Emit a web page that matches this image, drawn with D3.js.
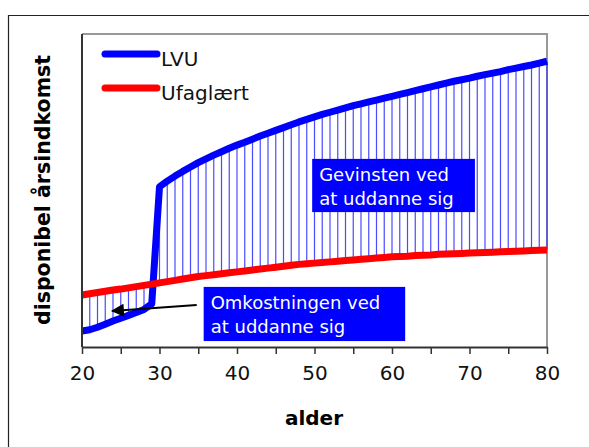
<!DOCTYPE html>
<html>
<head>
<meta charset="utf-8">
<script src="https://cdn.jsdelivr.net/npm/d3@7"></script>
<style>
  body { margin: 0; background: #fff; }
  svg { display: block; font-family: "DejaVu Sans", Verdana, sans-serif; }
</style>
</head>
<body>
<svg id="chart"></svg>
<script>
// ages on the x axis (one hatch line per year)
const ages = d3.range(20, 81);

// disponibel årsindkomst, index units
const lvu = [
  5.1, 5.5, 6.3, 7.3, 8.3, 9.2, 10.1, 11.0, 12.0, 13.8,
  51.2, 53.0, 54.6, 56.1, 57.5, 58.9, 60.1, 61.3, 62.4, 63.5,
  64.5, 65.4, 66.4, 67.4, 68.3, 69.2, 70.1, 71.0, 71.9, 72.7,
  73.5, 74.3, 75.0, 75.7, 76.4, 77.1, 77.7, 78.3, 78.9, 79.5,
  80.1, 80.7, 81.3, 81.9, 82.5, 83.1, 83.7, 84.3, 84.9, 85.4,
  85.9, 86.5, 87.0, 87.5, 88.0, 88.6, 89.1, 89.6, 90.1, 90.7,
  91.3
];
const ufaglaert = [
  16.6, 17.0, 17.4, 17.8, 18.2, 18.5, 18.9, 19.3, 19.7, 20.1,
  20.5, 20.9, 21.3, 21.7, 22.1, 22.5, 22.8, 23.1, 23.4, 23.7,
  24.0, 24.3, 24.6, 24.9, 25.2, 25.5, 25.8, 26.1, 26.4, 26.6,
  26.8, 27.0, 27.2, 27.4, 27.6, 27.8, 28.0, 28.2, 28.4, 28.6,
  28.8, 28.9, 29.0, 29.2, 29.3, 29.4, 29.6, 29.7, 29.8, 29.9,
  30.0, 30.1, 30.2, 30.3, 30.4, 30.5, 30.6, 30.7, 30.8, 30.9,
  31.0
];

const xTickLabels = [20, 30, 40, 50, 60, 70, 80];
const xMinorTicks = [20, 25, 30, 35, 40, 45, 50, 55, 60, 65, 70, 75, 80];

const seriesNames = ['LVU', 'Ufaglært'];
const seriesColors = ['#0000ff', '#ff0000'];

const W = 589, H = 447;
const margin = { top: 34, right: 42, bottom: 100, left: 82 };

const svg = d3.select('#chart').attr('width', W).attr('height', H);

// outer frame (only top and left show inside the window)
svg.append('path')
  .attr('d', `M8.5,${H} V15.5 H${W}`)
  .attr('fill', 'none')
  .attr('stroke', '#222')
  .attr('stroke-width', 1.2);

const width = W - margin.left - margin.right;
const height = H - margin.top - margin.bottom;

const x = d3.scaleLinear().domain([20, 80]).range([0, width]);
const y = d3.scaleLinear().domain([0, 100]).range([height, 0]);

const g = svg.append('g').attr('transform', `translate(${margin.left},${margin.top})`);

// top and right border of plot area
g.append('path')
  .attr('d', `M0,0 H${width} V${height}`)
  .attr('fill', 'none')
  .attr('stroke', '#999')
  .attr('stroke-width', 2);

// hatch lines between the two series
g.selectAll('.hatch')
  .data(ages)
  .join('line')
  .attr('class', 'hatch')
  .attr('x1', d => x(d))
  .attr('x2', d => x(d))
  .attr('y1', (d, i) => y(lvu[i]))
  .attr('y2', (d, i) => y(ufaglaert[i]))
  .attr('stroke', '#2a2aff')
  .attr('stroke-opacity', 0.85)
  .attr('stroke-width', 1.2);

const line = d3.line().x(d => x(d[0])).y(d => y(d[1]));

[lvu, ufaglaert].forEach((vals, k) => {
  g.append('path')
    .datum(ages.map((a, i) => [a, vals[i]]))
    .attr('d', line)
    .attr('fill', 'none')
    .attr('stroke', seriesColors[k])
    .attr('stroke-width', 7)
    .attr('stroke-linejoin', 'round');
});

// x axis
const xAxis = d3.axisBottom(x)
  .tickValues(xMinorTicks)
  .tickSize(7)
  .tickSizeOuter(0)
  .tickFormat(d => xTickLabels.includes(d) ? d : '');

const xAxisG = g.append('g')
  .attr('transform', `translate(0,${height})`)
  .call(xAxis);
xAxisG.select('.domain').attr('stroke', '#333').attr('stroke-width', 2);
xAxisG.selectAll('.tick line').attr('stroke', '#333').attr('stroke-width', 1.5);
xAxisG.selectAll('.tick text')
  .attr('y', 33)
  .attr('dy', 0)
  .attr('font-size', 20)
  .attr('font-family', '"DejaVu Sans", Verdana, sans-serif')
  .attr('fill', '#111');

// y axis line, no ticks
g.append('line')
  .attr('x1', 0).attr('x2', 0)
  .attr('y1', 0).attr('y2', height)
  .attr('stroke', '#333')
  .attr('stroke-width', 2);

// axis titles
svg.append('text')
  .attr('x', 314)
  .attr('y', 425)
  .attr('text-anchor', 'middle')
  .attr('font-size', 20)
  .attr('font-weight', 'bold')
  .text('alder');

svg.append('text')
  .attr('transform', 'rotate(-90)')
  .attr('x', -190)
  .attr('y', 50)
  .attr('text-anchor', 'middle')
  .attr('font-size', 20.5)
  .attr('font-weight', 'bold')
  .text('disponibel årsindkomst');

// legend
const legend = svg.append('g');
seriesNames.forEach((name, k) => {
  const ly = 54 + k * 34;
  legend.append('line')
    .attr('x1', 105).attr('x2', 157)
    .attr('y1', ly).attr('y2', ly)
    .attr('stroke', seriesColors[k])
    .attr('stroke-width', 7)
    .attr('stroke-linecap', 'round');
  legend.append('text')
    .attr('x', 161)
    .attr('y', ly + 12)
    .attr('font-size', 20)
    .attr('fill', '#111')
    .text(name);
});

// annotation boxes
function noteBox(a0, a1, v0, v1, lines) {
  const bx = x(a0), bw = x(a1) - x(a0);
  const by = y(v0), bh = y(v1) - y(v0);
  const box = g.append('g');
  box.append('rect')
    .attr('x', bx).attr('y', by)
    .attr('width', bw).attr('height', bh)
    .attr('fill', '#0000ff');
  lines.forEach((t, i) => {
    box.append('text')
      .attr('x', bx + 7)
      .attr('y', by + 22 + i * 24)
      .attr('font-size', 18)
      .attr('fill', '#fff')
      .text(t);
  });
}

noteBox(49.7, 70.7, 60.1, 43.1, ['Gevinsten ved', 'at uddanne sig']);
noteBox(35.7, 61.7, 19.2, 1.9, ['Omkostningen ved', 'at uddanne sig']);

// arrow pointing at the cost area
svg.append('defs').append('marker')
  .attr('id', 'arrowhead')
  .attr('viewBox', '0 0 10 10')
  .attr('refX', 9).attr('refY', 5)
  .attr('markerWidth', 16).attr('markerHeight', 13)
  .attr('markerUnits', 'userSpaceOnUse')
  .attr('orient', 'auto')
  .append('path')
  .attr('d', 'M0,0 L10,5 L0,10 Z')
  .attr('fill', '#000');

g.append('line')
  .attr('x1', x(34.8)).attr('y1', y(13.4))
  .attr('x2', x(23.9)).attr('y2', y(11.5))
  .attr('stroke', '#000')
  .attr('stroke-width', 2)
  .attr('marker-end', 'url(#arrowhead)');
</script>
</body>
</html>
